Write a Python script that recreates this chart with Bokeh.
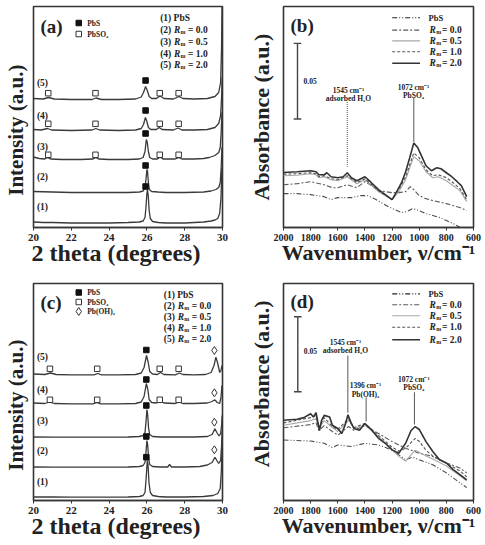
from bokeh.plotting import figure
from bokeh.layouts import column, row
from bokeh.models import Range1d, FixedTicker
from bokeh.core.properties import value
from bokeh.embed import file_html
from bokeh.resources import INLINE

FONT = "Liberation Serif"
NB = "\u00a0"

# ---------------- DATA ----------------
# XRD panel (a): 2theta (deg) vs intensity (a.u., offset curves)
A1_X = [20.0, 20.5, 21.0, 22.0, 23.0, 24.0, 25.0, 25.6, 25.8, 25.9, 25.95, 26.0, 26.03, 26.07, 26.12, 26.18, 26.3, 26.6, 27.0, 28.0, 29.0, 29.4, 29.6, 29.75, 29.85, 29.92, 29.97]
A1_Y = [5.5, 5.0, 5.0, 4.5, 4.5, 4.5, 5.0, 5.5, 6.5, 10, 20, 34, 38, 32, 17, 9, 6, 5, 4.5, 4.5, 5.5, 6.5, 7.5, 9, 14, 30, 60]
A2_X = [20.0, 21.0, 22.0, 23.0, 24.0, 25.0, 25.6, 25.8, 25.9, 25.95, 26.0, 26.03, 26.08, 26.13, 26.25, 26.6, 27.0, 28.0, 29.0, 29.4, 29.65, 29.8, 29.88, 29.93, 29.97]
A2_Y = [36, 35.5, 35, 35, 35, 35, 35.5, 36.5, 40, 48, 58, 57, 45, 38, 36, 35.5, 35, 35, 35.5, 36.5, 38, 40, 45, 60, 80]
A3_X = [20.0, 20.3, 20.6, 20.75, 20.9, 21.5, 22.5, 23.15, 23.3, 23.45, 24.0, 25.0, 25.6, 25.8, 25.9, 25.97, 26.02, 26.08, 26.15, 26.3, 26.55, 26.7, 26.85, 27.5, 27.7, 27.85, 28.5, 29.0, 29.3, 29.6, 29.8, 29.88, 29.93, 29.97]
A3_Y = [70.5, 69, 68.5, 70, 68.5, 68, 68, 68.5, 70, 68.5, 68, 68, 68.5, 70, 76, 88, 85, 76, 70, 68.5, 68.5, 70.5, 68.5, 68.5, 70, 68.5, 68.5, 69, 70, 72, 75, 80, 95, 115]
A4_X = [20.0, 20.4, 20.75, 20.95, 22.0, 23.1, 23.3, 23.5, 24.5, 25.4, 25.7, 25.82, 25.92, 26.0, 26.08, 26.2, 26.5, 26.65, 26.8, 27.4, 27.65, 27.85, 28.5, 29.2, 29.6, 29.8, 29.9, 29.95, 29.98]
A4_Y = [98, 97.5, 99, 97.5, 97, 97.5, 99, 97.5, 97, 97.5, 99, 103, 110, 106, 100, 98, 98, 100, 98, 97.5, 99.5, 97.5, 97.5, 98, 100, 104, 112, 130, 150]
A5_X = [20.0, 20.5, 20.8, 21.1, 22.0, 23.1, 23.3, 23.6, 24.5, 25.4, 25.7, 25.82, 25.93, 26.02, 26.12, 26.25, 26.5, 26.7, 26.9, 27.4, 27.7, 27.9, 28.5, 29.2, 29.6, 29.8, 29.9, 29.95, 29.98]
A5_Y = [129, 128.5, 130, 128.5, 128, 128, 129.5, 128, 128, 128.5, 130.5, 135, 141, 137, 131, 129, 129, 131.5, 129, 128.5, 131, 129, 128.5, 129, 131, 135, 145, 180, 230]
A_PBS_X = 25.93
A_PBS_H = [41, 62, 94, 117, 147]
A_PBSO4_X = [20.78, 23.28, 26.68, 27.68]
A_PBSO4_H = [72.7, 103.7, 134.3]          # curves (3), (4), (5)

# XRD panel (c)
C1_X = [20.0, 21.0, 22.0, 23.0, 24.0, 25.0, 25.6, 25.8, 25.9, 25.96, 26.02, 26.06, 26.11, 26.18, 26.3, 26.6, 27.0, 28.0, 29.0, 29.5, 29.75, 29.88, 29.94, 29.98]
C1_Y = [3.5, 3.5, 3.3, 3.3, 3.3, 3.5, 4, 5, 8, 22, 40, 36, 18, 8, 5, 4, 3.5, 3.5, 4, 5, 7, 12, 30, 60]
C2_X = [20.0, 21.0, 22.0, 23.0, 24.0, 25.0, 25.6, 25.8, 25.9, 25.95, 26.0, 26.04, 26.09, 26.15, 26.3, 26.7, 27.1, 27.2, 27.3, 28.0, 28.8, 29.2, 29.45, 29.6, 29.7, 29.8, 29.9, 29.95, 29.98]
C2_Y = [33.5, 33.3, 33.3, 33.3, 33.3, 33.5, 34, 35, 38, 48, 60, 56, 42, 36, 34, 33.5, 33.5, 36, 33.5, 33.5, 34, 35.5, 38, 43.3, 40, 37, 40, 55, 70]
C3_X = [20.0, 21.0, 22.0, 23.0, 24.0, 25.0, 25.6, 25.8, 25.9, 25.95, 26.0, 26.04, 26.09, 26.15, 26.3, 26.7, 27.5, 28.5, 29.2, 29.45, 29.6, 29.7, 29.82, 29.9, 29.95, 29.98]
C3_Y = [63.5, 63.3, 63.3, 63.3, 63.3, 63.5, 64, 65, 68, 78, 91, 86, 72, 66, 64, 63.5, 63.5, 63.5, 64, 66, 71.7, 68, 64.5, 67, 75, 85]
C4_X = [20.0, 20.6, 20.85, 21.1, 22.0, 23.15, 23.35, 23.55, 24.5, 25.4, 25.7, 25.85, 25.97, 26.04, 26.12, 26.25, 26.5, 26.7, 26.9, 27.5, 27.7, 27.9, 28.5, 29.2, 29.45, 29.6, 29.72, 29.85, 29.92, 29.97]
C4_Y = [97.5, 97, 98.5, 97, 96.7, 96.7, 98, 96.7, 96.7, 97, 98.5, 104, 117, 112, 101, 98, 97.5, 99.5, 97.5, 97, 98.5, 97, 97, 97.5, 99, 100.7, 98, 97, 103, 115]
C5_X = [20.0, 20.6, 20.9, 21.2, 22.0, 23.2, 23.4, 23.6, 24.5, 25.4, 25.7, 25.85, 25.98, 26.06, 26.15, 26.3, 26.55, 26.72, 26.9, 27.5, 27.72, 27.9, 28.5, 29.1, 29.4, 29.55, 29.65, 29.75, 29.85, 29.92, 29.97]
C5_Y = [126.5, 126, 127.5, 126, 125.7, 125.7, 127, 125.7, 125.7, 126, 127.5, 133, 145, 139, 129, 126.5, 126, 128, 126, 125.7, 127.5, 126, 125.7, 126, 128, 135, 143.3, 137, 128, 130, 135]
C_PBS_X = 25.97
C_PBS_H = [43.3, 64, 95, 121, 150.5]
C_PBSO4_X = [20.87, 23.37, 26.68, 27.68]
C_PBSO4_H = [100.7, 131.7]               # curves (4), (5)
C_PBOH_X = 29.57
C_PBOH_H = [50.7, 78.3, 107.7, 150]      # curves (2)-(5)

# IR panel (b): wavenumber (cm-1) vs absorbance (a.u.)
B20_X = [2000, 1900, 1800, 1760, 1740, 1700, 1680, 1650, 1600, 1560, 1530, 1500, 1460, 1400, 1360, 1300, 1250, 1200, 1170, 1130, 1100, 1070, 1040, 1010, 980, 950, 910, 870, 840, 800, 760, 720, 690, 650]
B20_Y = [55.3, 56, 57, 56, 53, 53, 55, 51, 50, 51, 55, 50, 47, 51, 46, 38, 33, 28, 35, 45, 56, 70, 85, 80, 71, 62, 57, 60, 59, 55, 51, 46, 42, 31]
B10_X = [2000, 1900, 1800, 1760, 1740, 1700, 1650, 1600, 1530, 1460, 1400, 1300, 1200, 1150, 1100, 1070, 1040, 1000, 950, 900, 860, 800, 750, 700, 650]
B10_Y = [53.5, 54, 55, 54, 51, 52, 49, 48, 52, 45, 49, 37, 28, 38, 51, 63, 75, 70, 58, 52, 53, 50, 45, 39, 28]
B05_X = [2000, 1900, 1800, 1760, 1740, 1700, 1650, 1600, 1530, 1460, 1400, 1300, 1200, 1150, 1100, 1070, 1040, 1000, 950, 900, 860, 800, 750, 700, 650]
B05_Y = [52, 52.5, 54, 53, 50, 51, 48, 47, 51, 44, 48, 36, 28, 36, 48, 60, 71, 67, 56, 50, 51, 47, 42, 37, 26]
B00_X = [2000, 1900, 1800, 1700, 1640, 1600, 1530, 1460, 1400, 1350, 1300, 1250, 1200, 1150, 1100, 1065, 1040, 1000, 950, 900, 800, 700, 650]
B00_Y = [43, 44, 46, 43, 40, 40, 43, 40, 46, 42, 37, 36, 35, 35, 36, 41, 38, 32, 29, 27, 24, 20, 17]
BPBS_X = [2000, 1900, 1800, 1700, 1650, 1600, 1500, 1430, 1380, 1330, 1280, 1230, 1180, 1130, 1090, 1050, 1000, 950, 900, 850, 800, 750, 710, 690]
BPBS_Y = [34, 34, 33, 31, 28, 30, 30, 32, 32, 29, 25, 21, 18, 15, 16, 19, 17, 14, 12, 10, 7, 4, 1, -1]

# IR panel (d)
D20_X = [2000, 1900, 1850, 1800, 1780, 1760, 1745, 1735, 1720, 1700, 1660, 1640, 1600, 1570, 1545, 1525, 1500, 1480, 1440, 1400, 1350, 1300, 1250, 1200, 1150, 1100, 1060, 1030, 1000, 950, 900, 850, 800, 750, 700, 650]
D20_Y = [81.3, 82.3, 84, 88, 84.7, 89, 78, 71, 81, 86.3, 84.7, 76.3, 73, 68, 77, 87, 78, 73, 71.3, 78, 71.3, 63, 58, 51.3, 48, 58, 71, 75, 72, 59.7, 49.7, 41.3, 38, 31.3, 26.3, 21]
D10_X = [2000, 1800, 1760, 1740, 1700, 1640, 1600, 1520, 1480, 1400, 1300, 1200, 1150, 1100, 1030, 1000, 950, 900, 800, 700, 650]
D10_Y = [78.7, 84, 86, 74, 84, 75, 72, 83, 74, 78, 66, 54, 50, 53, 63, 60, 51, 45, 38, 30, 24]
D05_X = [2000, 1800, 1760, 1740, 1700, 1640, 1600, 1520, 1480, 1400, 1300, 1200, 1150, 1100, 1030, 1000, 950, 900, 800, 700, 650]
D05_Y = [76.3, 81, 83, 73, 81, 74, 70, 81.3, 73, 77, 65, 51.3, 44.7, 40, 51, 49, 45, 42, 35, 25, 20]
D00_X = [2000, 1800, 1760, 1740, 1700, 1640, 1600, 1520, 1480, 1400, 1300, 1200, 1100, 1000, 900, 800, 700, 650]
D00_Y = [73.7, 77, 79, 71, 76, 70, 66.3, 75, 71, 76, 68, 59.7, 53, 48, 44.7, 38, 33, 28]
DPBS_X = [2000, 1800, 1700, 1640, 1600, 1500, 1400, 1300, 1200, 1150, 1100, 1050, 1000, 900, 800, 700, 650]
DPBS_Y = [61.3, 60.3, 58, 53.7, 56.3, 54.7, 58, 56.3, 51.3, 46.3, 41.3, 44, 41.3, 36.3, 28, 18, 13]

SCALE_BAR_LEN = 76          # length of the 0.05 absorbance bar, in plot units
SCALE_BAR_LABEL = "0.05"

XRD_TICKS = [20, 22, 24, 26, 28, 30]
IR_TICKS = [2000, 1800, 1600, 1400, 1200, 1000, 800, 600]
SAMPLE_TAGS = ["(1)", "(2)", "(3)", "(4)", "(5)"]
RM_VALUES = ["0.0", "0.5", "1.0", "2.0"]

# ---------------- LAYOUT ----------------
# ox, oy, frame l, r, t, b (page px), x0, x1, W, H
FR = {
    "a": (0, 0, 32, 222, 6, 227, 20, 30, 242, 272),
    "b": (242, 0, 283, 473, 6, 228, 2000, 600, 243, 272),
    "c": (0, 272, 32, 222, 283, 500, 20, 30, 242, 273),
    "d": (242, 272, 283, 473, 283, 503, 2000, 600, 243, 273),
}

DARK = "#353535"


def dpos(k, gx, gy):
    ox, oy, l, r, t, b, x0, x1, W, H = FR[k]
    return x0 + (gx - l) / (r - l) * (x1 - x0), b - gy


def make_fig(k, xlabel, ylabel, ticks, xfs, yfs, ystand):
    ox, oy, l, r, t, b, x0, x1, W, H = FR[k]
    p = figure(width=W, height=H, output_backend="svg", toolbar_location=None,
               x_range=Range1d(x0, x1), y_range=Range1d(0, b - t))
    p.min_border_left = l - ox
    p.min_border_right = ox + W - r
    p.min_border_top = t - oy
    p.min_border_bottom = oy + H - b
    p.background_fill_color = "white"
    p.border_fill_color = "white"
    p.outline_line_color = DARK
    p.outline_line_width = 1.6
    p.xgrid.grid_line_color = None
    p.ygrid.grid_line_color = None
    p.xaxis.ticker = FixedTicker(ticks=ticks)
    p.xaxis.minor_tick_line_color = None
    p.xaxis.major_tick_in = 0
    p.xaxis.major_tick_out = 3
    p.xaxis.major_tick_line_color = DARK
    p.xaxis.axis_line_color = DARK
    p.xaxis.axis_line_width = 1.6
    p.xaxis.major_label_standoff = 3
    p.xaxis.major_label_text_font = FONT
    p.xaxis.major_label_text_font_style = "bold"
    p.xaxis.major_label_text_font_size = "11px" if k in "ac" else "10px"
    p.xaxis.major_label_text_color = "#222"
    p.xaxis.axis_label = xlabel
    p.xaxis.axis_label_text_font = FONT
    p.xaxis.axis_label_text_font_style = "bold"
    p.xaxis.axis_label_text_font_size = xfs
    p.xaxis.axis_label_text_color = "#222"
    p.xaxis.axis_label_standoff = -4
    p.yaxis.ticker = FixedTicker(ticks=[])
    p.yaxis.major_tick_line_color = None
    p.yaxis.minor_tick_line_color = None
    p.yaxis.axis_line_color = None
    p.yaxis.major_label_text_font_size = "0px"
    p.yaxis.major_label_standoff = 0
    p.yaxis.axis_label = ylabel
    p.yaxis.axis_label_text_font = FONT
    p.yaxis.axis_label_text_font_style = "bold"
    p.yaxis.axis_label_text_font_size = yfs
    p.yaxis.axis_label_text_color = "#222"
    p.yaxis.axis_label_standoff = ystand
    return p


def txt(p, k, gx, gy, s, size, style="bold", align="left", color="#222"):
    x, y = dpos(k, gx, gy)
    p.text(x=[x], y=[y], text=[s], text_font=value(FONT),
           text_font_size=value(f"{size}px"), text_font_style=style,
           text_align=align, text_baseline="middle", text_color=color)


def rm_label(p, k, gx, gy, prefix, val, size, offs):
    if prefix:
        txt(p, k, gx, gy, prefix, size)
    txt(p, k, gx + offs[0], gy, "R", size, style="bold italic")
    txt(p, k, gx + offs[1], gy + 2.2, "m", round(size * 0.62, 1))
    txt(p, k, gx + offs[2], gy, "= " + val, size)


def marker_at(p, k, gx, gy, marker, size, filled):
    x, y = dpos(k, gx, gy)
    p.scatter([x], [y], marker=marker, size=size,
              fill_color="#111" if filled else "white",
              line_color="#111" if filled else "#333", line_width=1)


# ---------------- XRD PANELS ----------------
def xrd_panel(k, curves, pbs_x, pbs_h, so4_x, so4_h_list, tag_y, right_x, right_y,
              left_rows, letter, letter_y, oh=None):
    p = make_fig(k, "2 theta (degrees)" + NB * 4, "Intensity (a.u.)" + NB * 5,
                 XRD_TICKS, "24px", "21px", 6)
    for xs, ys in curves:
        p.line(xs, ys, line_color="#3a3a3a", line_width=1.3)
    p.scatter([pbs_x] * len(pbs_h), pbs_h, marker="square", size=5.5,
              fill_color="#111", line_color="#111")
    for h in so4_h_list:
        p.scatter(so4_x, [h] * len(so4_x), marker="square", size=5.5,
                  fill_color="white", line_color="#333", line_width=1)
    if oh is not None:
        ohx, ohh = oh
        p.scatter([ohx] * len(ohh), ohh, marker="diamond", size=8,
                  fill_color="white", line_color="#333", line_width=1)
    for tag, gy in zip(SAMPLE_TAGS, tag_y):
        txt(p, k, 41, gy, tag, 9.5, align="center")
    txt(p, k, 39, letter_y, letter, 19)
    for (mk, gy, filled, label) in left_rows:
        marker_at(p, k, 77.5, gy, mk, 5.5 if mk == "square" else 8, filled)
        txt(p, k, 86, gy, label, 7.5)
    txt(p, k, right_x, right_y[0], "(1) PbS", 9.5)
    for i, val in enumerate(RM_VALUES):
        rm_label(p, k, right_x, right_y[i + 1], SAMPLE_TAGS[i + 1], val, 9.5, (14, 20.5, 28))
    return p


pa = xrd_panel("a",
               [(A1_X, A1_Y), (A2_X, A2_Y), (A3_X, A3_Y), (A4_X, A4_Y), (A5_X, A5_Y)],
               A_PBS_X, A_PBS_H, A_PBSO4_X, A_PBSO4_H,
               [206.7, 176, 146, 115, 82.7], 159.3, [17, 29, 41, 53, 64.5],
               [("square", 22.5, True, "PbS"), ("square", 33.5, False, "PbSO₄")], "(a)", 26)

pc = xrd_panel("c",
               [(C1_X, C1_Y), (C2_X, C2_Y), (C3_X, C3_Y), (C4_X, C4_Y), (C5_X, C5_Y)],
               C_PBS_X, C_PBS_H, C_PBSO4_X, C_PBSO4_H,
               [481.7, 450, 420, 389.3, 356.7], 163, [294, 305, 316, 327, 338.5],
               [("square", 292, True, "PbS"), ("square", 301.5, False, "PbSO₄"),
                ("diamond", 311, False, "Pb(OH)₂")], "(c)", 301.5,
               oh=(C_PBOH_X, C_PBOH_H))

# ---------------- IR PANELS ----------------
STYLES = [  # (label, color, width, dash)
    ("PbS", "#4a4a4a", 1.1, "5 2 1 2 1 2"),
    ("0.0", "#5a5a5a", 1.1, "5 2 2 2"),
    ("0.5", "#a8a8a8", 1.1, "solid"),
    ("1.0", "#555555", 1.1, "3 2"),
    ("2.0", "#333333", 1.6, "solid"),
]


def ir_panel(k, series, ylabel, letter, letter_y, bar_gx, bar_top, bar_lbl_y, leg_y, annots):
    p = make_fig(k, "Wavenumber, ν/cm⁻¹", ylabel, IR_TICKS, "22px", "22px", 10)
    for (xs, ys), (lab, col, w, dash) in zip(series, STYLES):
        p.line(xs, ys, line_color=col, line_width=w, line_dash=dash)
    for (lab, col, w, dash), gy in zip(STYLES, leg_y):
        x1, y1 = dpos(k, 391.7, gy)
        x2, _ = dpos(k, 419.5, gy)
        p.line([x1, x2], [y1, y1], line_color=col if lab != "PbS" else "#222",
               line_width=w, line_dash=dash)
        if lab == "PbS":
            txt(p, k, 428, gy, "PbS", 8.5)
        else:
            rm_label(p, k, 429, gy, None, lab, 9.5, (0, 6.7, 12.5))
    txt(p, k, 290, letter_y, letter, 19)
    bx, btop = dpos(k, bar_gx, bar_top)
    cx0, _ = dpos(k, bar_gx - 3.8, bar_top)
    cx1, _ = dpos(k, bar_gx + 3.8, bar_top)
    bbot = btop - SCALE_BAR_LEN
    p.line([bx, bx], [btop, bbot], line_color="#444", line_width=1.4)
    p.line([cx0, cx1], [btop, btop], line_color="#444", line_width=1.4)
    p.line([cx0, cx1], [bbot, bbot], line_color="#444", line_width=1.4)
    txt(p, k, bar_gx + 6, bar_lbl_y, SCALE_BAR_LABEL, 7.5)
    for (lx, ytop, ybot, dash, lines) in annots:
        p.line([lx, lx], [ytop, ybot], line_color="#666", line_width=1.1, line_dash=dash)
        for (gx, gy, s) in lines:
            txt(p, k, gx, gy, s, 7.5, align="center")
    return p


pb = ir_panel("b",
              [(BPBS_X, BPBS_Y), (B00_X, B00_Y), (B05_X, B05_Y), (B10_X, B10_Y), (B20_X, B20_Y)],
              "Absorbance (a.u.)",
              "(b)", 25, 297, 43, 81, [17.3, 29.7, 40.5, 51.5, 63],
              [(1530, 126, 61, "1 1", [(348, 90, "1545 cm⁻¹"), (348, 98.5, "adsorbed H₂O")]),
               (1040, 130, 86, "solid", [(413, 87, "1072 cm⁻¹"), (413, 95.5, "PbSO₄")])])

pd = ir_panel("d",
              [(DPBS_X, DPBS_Y), (D00_X, D00_Y), (D05_X, D05_Y), (D10_X, D10_Y), (D20_X, D20_Y)],
              NB * 3 + "Absorbance (a.u.)",
              "(d)", 301.5, 297.3, 316.7, 351.7, [293.5, 304.5, 315.7, 327.3, 340],
              [(1526, 147, 89, "solid", [(345, 342.7, "1545 cm⁻¹"), (345, 351.2, "adsorbed H₂O")]),
               (1391, 104.7, 80, "solid", [(365, 386.7, "1396 cm⁻¹"), (365, 395.2, "Pb(OH)₂")]),
               (1035, 109.7, 77, "solid", [(413.3, 380, "1072 cm⁻¹"), (413.3, 388.5, "PbSO₄")])])

layout = column(row(pa, pb), row(pc, pd))
open("out.html", "w").write(file_html(layout, INLINE))
